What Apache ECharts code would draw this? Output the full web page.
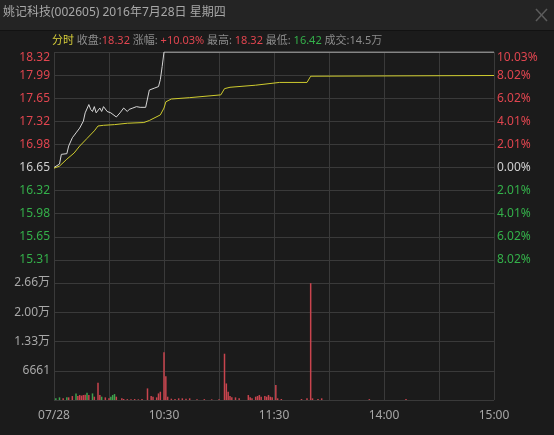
<!DOCTYPE html>
<html>
<head>
<meta charset="utf-8">
<script src="https://cdn.jsdelivr.net/npm/echarts@6/dist/echarts.min.js"></script>
<style>
html, body { margin: 0; padding: 0; background: #1b1b1b; }
#main { width: 554px; height: 435px; }
</style>
</head>
<body>
<div id="main"></div>
<script>
// 昨收 / previous close, axis is built in percent around it
const preClose = 16.65;
const pctRange = 10.03;
const pctTick = 2.006;

// price line (minute index from 09:30, 240 = 15:00)
const priceMinutes = [0, 1, 3, 4, 5, 7, 8, 10, 11, 12, 14, 16, 17, 18, 19, 20, 21, 22, 23, 25, 26, 27, 29, 31, 32, 34, 36, 38, 40, 41, 43, 45, 47, 50, 51, 52, 53, 55, 57, 58, 59, 60, 240];
const priceValues = [16.65, 16.66, 16.70, 16.84, 16.82, 16.85, 16.96, 17.08, 17.10, 17.15, 17.22, 17.32, 17.44, 17.46, 17.56, 17.49, 17.46, 17.53, 17.44, 17.51, 17.46, 17.53, 17.46, 17.44, 17.42, 17.38, 17.44, 17.51, 17.46, 17.49, 17.51, 17.53, 17.52, 17.52, 17.53, 17.77, 17.78, 17.80, 17.82, 17.92, 18.11, 18.32, 18.32];

// average price line
const avgMinutes = [0, 3, 7, 11, 14, 18, 22, 24, 27, 33, 40, 49, 52, 58, 60, 61, 64, 74, 91, 93, 96, 110, 123, 138, 140, 141, 240];
const avgValues = [16.64, 16.67, 16.77, 16.86, 16.96, 17.07, 17.18, 17.25, 17.26, 17.27, 17.29, 17.30, 17.33, 17.41, 17.51, 17.60, 17.64, 17.66, 17.70, 17.79, 17.81, 17.84, 17.88, 17.88, 17.97, 17.98, 17.98];

// volume bars, volUp: 1 red / 0 green
const volMinutes = [1, 3, 5, 7, 8, 10, 12, 13, 14, 15, 16, 17, 18, 19, 21, 22, 24, 25, 26, 28, 30, 31, 32, 33, 34, 37, 38, 40, 42, 44, 46, 48, 51, 53, 54, 56, 57, 58, 60, 61, 62, 64, 66, 68, 70, 72, 74, 78, 82, 86, 90, 93, 94, 95, 96, 97, 99, 101, 106, 107, 108, 110, 111, 112, 113, 115, 116, 117, 118, 119, 121, 122, 124, 135, 138, 140, 141, 144, 146, 172, 192];
const volValues = [380, 600, 380, 600, 600, 900, 1500, 900, 1130, 1000, 1130, 1200, 1650, 1130, 1500, 750, 3900, 1130, 750, 600, 380, 750, 1130, 1350, 750, 380, 230, 200, 150, 230, 150, 200, 2640, 900, 750, 600, 1500, 1880, 10900, 5400, 750, 300, 200, 380, 380, 300, 380, 150, 200, 150, 150, 10540, 3770, 1880, 900, 600, 600, 380, 1130, 600, 380, 750, 900, 1130, 750, 900, 750, 1130, 750, 600, 3390, 380, 230, 230, 380, 26600, 380, 230, 380, 200, 200];
const volUp = [0, 0, 1, 0, 1, 1, 0, 1, 1, 1, 1, 1, 0, 1, 0, 1, 1, 1, 0, 1, 1, 0, 0, 0, 1, 1, 1, 1, 1, 1, 1, 1, 1, 1, 1, 1, 1, 1, 1, 1, 1, 1, 1, 1, 1, 1, 1, 1, 1, 1, 1, 1, 1, 1, 1, 1, 1, 1, 1, 1, 1, 1, 1, 1, 1, 1, 1, 1, 1, 1, 1, 1, 1, 1, 1, 1, 1, 1, 1, 1, 1];
const volTick = 6661;

// x tick labels
const timeTickMinutes = [0, 60, 120, 180, 240];
const timeTickLabels = ['07/28', '10:30', '11:30', '14:00', '15:00'];

const FONT = '"Noto Sans", "Noto Sans CJK SC", sans-serif';
const RED = '#e0454f';
const GREEN = '#34b04a';
const GRAY = '#a8a8a8';
const GRID = '#3a3a3a';

function toPct(p) {
    return (p / preClose - 1) * 100;
}

function pctColor(v) {
    v = Number(v);
    if (v > 0.001) return RED;
    if (v < -0.001) return GREEN;
    return '#cfcfcf';
}

const priceData = priceMinutes.map((m, i) => [m, toPct(priceValues[i])]);
const avgData = avgMinutes.map((m, i) => [m, toPct(avgValues[i])]);
const volData = volMinutes.map((m, i) => [m, volValues[i], volUp[i]]);

const xCommon = {
    type: 'value',
    min: 0,
    max: 240,
    interval: 30,
    axisLine: { show: false },
    axisTick: { show: false },
    splitLine: { show: true, lineStyle: { color: GRID, width: 1 } }
};

const Option = {
    backgroundColor: '#1b1b1b',
    animation: false,
    textStyle: { fontFamily: FONT },
    graphic: [
        { type: 'rect', shape: { x: 0, y: 0, width: 554, height: 30 }, style: { fill: '#242424' } },
        { type: 'line', shape: { x1: 0, y1: 30.5, x2: 554, y2: 30.5 }, style: { stroke: '#121212', lineWidth: 1 } },
        { type: 'line', shape: { x1: 536, y1: 9, x2: 547, y2: 21 }, style: { stroke: '#5c5c5c', lineWidth: 1.5 } },
        { type: 'line', shape: { x1: 547, y1: 9, x2: 536, y2: 21 }, style: { stroke: '#5c5c5c', lineWidth: 1.5 } },
        {
            type: 'text', left: 3, top: 7,
            style: { text: '姚记科技(002605) 2016年7月28日 星期四', fill: GRAY, font: '12px ' + FONT }
        },
        {
            type: 'text', left: 52, top: 35,
            style: {
                text: '{y|分时} {g|收盘:}{r|18.32} {g|涨幅:} {r|+10.03%} {g|最高:} {r|18.32} {g|最低:} {gr|16.42} {g|成交:14.5万}',
                font: '11px ' + FONT,
                rich: {
                    y: { fill: '#d8cf3a', font: '11px ' + FONT },
                    g: { fill: '#8c8c8c', font: '11px ' + FONT },
                    r: { fill: RED, font: '11px ' + FONT },
                    gr: { fill: GREEN, font: '11px ' + FONT }
                }
            }
        }
    ],
    grid: [
        { left: 54, right: 60, top: 52, height: 231 },
        { left: 54, right: 60, top: 283, height: 117 }
    ],
    xAxis: [
        Object.assign({ gridIndex: 0, axisLabel: { show: false } }, xCommon),
        Object.assign({
            gridIndex: 1,
            axisLabel: {
                show: true, color: GRAY, fontSize: 12, margin: 10, fontFamily: FONT,
                formatter: function (v) {
                    const i = timeTickMinutes.indexOf(Number(v));
                    return i >= 0 ? timeTickLabels[i] : '';
                }
            }
        }, xCommon)
    ],
    yAxis: [
        {
            gridIndex: 0, type: 'value', position: 'left',
            min: -pctRange, max: pctRange, interval: pctTick,
            axisLine: { show: false }, axisTick: { show: false },
            splitLine: { show: true, lineStyle: { color: GRID, width: 1 } },
            axisLabel: {
                margin: 4, fontSize: 12, fontFamily: FONT,
                color: pctColor,
                formatter: function (v) {
                    if (v < -pctRange + 0.001) return '';
                    const s = (preClose * (1 + v / 100)).toFixed(2);
                    return v > pctRange - 0.001 ? '{t|' + s + '}' : s;
                },
                rich: { t: { padding: [12, 0, 0, 0], fontSize: 12, color: RED } }
            }
        },
        {
            gridIndex: 0, type: 'value', position: 'right',
            min: -pctRange, max: pctRange, interval: pctTick,
            axisLine: { show: false }, axisTick: { show: false },
            splitLine: { show: false },
            axisLabel: {
                margin: 3, fontSize: 12, fontFamily: FONT,
                color: pctColor,
                formatter: function (v) {
                    if (v < -pctRange + 0.001) return '';
                    const s = Math.abs(v).toFixed(2) + '%';
                    return v > pctRange - 0.001 ? '{t|' + s + '}' : s;
                },
                rich: { t: { padding: [12, 0, 0, 0], fontSize: 12, color: RED } }
            }
        },
        {
            gridIndex: 1, type: 'value', position: 'left',
            min: 0, max: volTick * 4, interval: volTick,
            axisLine: { show: false }, axisTick: { show: false },
            splitLine: { show: true, lineStyle: { color: GRID, width: 1 } },
            axisLabel: {
                margin: 4, fontSize: 12, color: GRAY, fontFamily: FONT,
                formatter: function (v) {
                    if (v === 0) return '';
                    if (v >= 10000) return (v / 10000).toFixed(2) + '万';
                    return String(v);
                }
            }
        }
    ],
    series: [
        {
            name: '价格', type: 'line', xAxisIndex: 0, yAxisIndex: 0,
            data: priceData, showSymbol: false, symbol: 'none',
            lineStyle: { color: '#d6d6d6', width: 1 }
        },
        {
            name: '均价', type: 'line', xAxisIndex: 0, yAxisIndex: 0,
            data: avgData, showSymbol: false, symbol: 'none',
            lineStyle: { color: '#cfcc2e', width: 1 }
        },
        {
            name: '成交量', type: 'bar', xAxisIndex: 1, yAxisIndex: 2,
            data: volData, barWidth: 1.5,
            itemStyle: {
                color: function (p) {
                    return p.data[2] ? '#c9444e' : '#3ea34e';
                }
            }
        }
    ]
};

const LocalChart = echarts.init(document.getElementById('main'));
LocalChart.setOption(Option);
</script>
</body>
</html>
